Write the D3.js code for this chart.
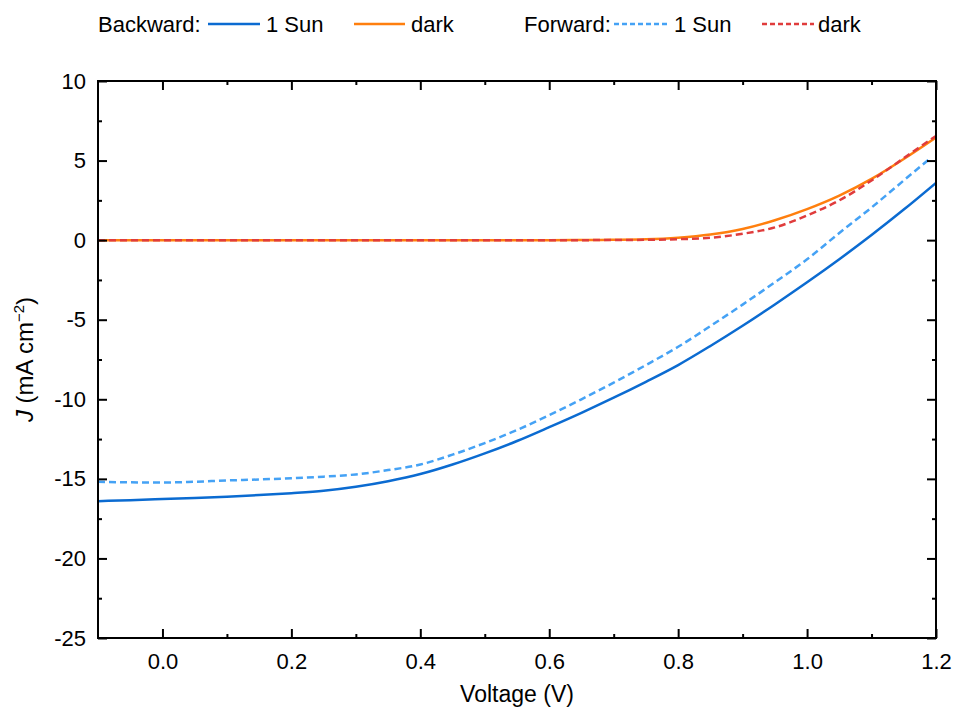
<!DOCTYPE html>
<html>
<head>
<meta charset="utf-8">
<script src="https://cdn.jsdelivr.net/npm/d3@7"></script>
<style>
  body { margin: 0; background: #fff; }
  svg { font-family: Arial, "Liberation Sans", sans-serif; }
</style>
</head>
<body>
<svg id="chart"></svg>
<script>
// voltage samples (V)
const voltage = [-0.1, -0.05, 0.0, 0.05, 0.1, 0.15, 0.2, 0.25, 0.3, 0.35, 0.4, 0.45, 0.5, 0.55,
  0.6, 0.65, 0.7, 0.75, 0.8, 0.85, 0.9, 0.95, 1.0, 1.05, 1.1, 1.15, 1.2];

// current density (mA cm-2)
const backwardSun = [-16.4, -16.34, -16.27, -16.2, -16.12, -16.02, -15.9, -15.75, -15.5, -15.15, -14.7, -14.1,
  -13.4, -12.62, -11.75, -10.85, -9.9, -8.9, -7.85, -6.65, -5.38, -4.04, -2.65, -1.2, 0.32, 1.92, 3.6];
const backwardDark = [0, 0, 0, 0, 0, 0, 0, 0, 0, 0, 0, 0, 0, 0, 0, 0.01, 0.02, 0.05, 0.15, 0.35, 0.7, 1.25,
  1.95, 2.8, 3.85, 5.1, 6.45];
const forwardSun = [-15.18, -15.22, -15.23, -15.18, -15.1, -15.04, -14.96, -14.86, -14.72, -14.45, -14.1, -13.48,
  -12.75, -11.93, -11.0, -10.0, -8.95, -7.85, -6.7, -5.4, -4.05, -2.65, -1.2, 0.45, 2.05, 3.75, 5.45];
const forwardDark = [0, 0, 0, 0, 0, 0, 0, 0, 0, 0, 0, 0, 0, 0, 0, 0, 0.01, 0.02, 0.06, 0.15, 0.4, 0.8,
  1.55, 2.5, 3.75, 5.15, 6.55];

const xTicks = [0.0, 0.2, 0.4, 0.6, 0.8, 1.0, 1.2];
const xMinor = [0.1, 0.3, 0.5, 0.7, 0.9, 1.1];
const yTicks = [-25, -20, -15, -10, -5, 0, 5, 10];
const yMinor = [-22.5, -17.5, -12.5, -7.5, -2.5, 2.5, 7.5];

const series = [
  { name: '1 Sun', group: 'Backward:', values: backwardSun, color: '#0b6bd1', dash: null, xEnd: 1.2 },
  { name: 'dark', group: 'Backward:', values: backwardDark, color: '#ff7f0e', dash: null, xEnd: 1.2 },
  { name: '1 Sun', group: 'Forward:', values: forwardSun, color: '#45a2f5', dash: '7,4', xEnd: 1.192 },
  { name: 'dark', group: 'Forward:', values: forwardDark, color: '#e03c3c', dash: '7,4', xEnd: 1.2 },
];

const width = 956, height = 713;
const margin = { top: 81, right: 20, bottom: 75, left: 98 };

const svg = d3.select('#chart').attr('width', width).attr('height', height);

const x = d3.scaleLinear().domain([-0.1, 1.2]).range([margin.left, width - margin.right]);
const y = d3.scaleLinear().domain([-25, 10]).range([height - margin.bottom, margin.top]);

// curves
const line = d3.line().x((d) => x(d[0])).y((d) => y(d[1])).curve(d3.curveMonotoneX);

svg.append('clipPath').attr('id', 'plot')
  .append('rect')
  .attr('x', margin.left).attr('y', margin.top)
  .attr('width', x(1.2) - margin.left).attr('height', y(-25) - margin.top);

for (const s of series) {
  const pts = voltage.map((v, i) => [v, s.values[i]]);
  if (s.xEnd < 1.2) {
    // forward scan stops a little before the edge
    const last = pts[pts.length - 1], prev = pts[pts.length - 2];
    const t = (s.xEnd - prev[0]) / (last[0] - prev[0]);
    pts[pts.length - 1] = [s.xEnd, prev[1] + (last[1] - prev[1]) * t];
  }
  svg.append('path')
    .datum(pts)
    .attr('clip-path', 'url(#plot)')
    .attr('fill', 'none')
    .attr('stroke', s.color)
    .attr('stroke-width', 2.5)
    .attr('stroke-dasharray', s.dash)
    .attr('d', line);
}

// axes, ticks pointing inward on all four sides
const fmtX = d3.format('.1f');
const fmtY = (d) => String(d); // plain hyphen like the original
const axisStyle = (g) => {
  g.select('.domain').remove();
  g.selectAll('.tick line').attr('stroke', '#000').attr('stroke-width', 2);
  g.selectAll('text').attr('font-size', 22).attr('fill', '#000');
};

svg.append('g')
  .attr('transform', `translate(0,${y(-25)})`)
  .call(d3.axisBottom(x).tickValues(xTicks).tickFormat(fmtX).tickSize(-9).tickPadding(15))
  .call(axisStyle);
svg.append('g')
  .attr('transform', `translate(0,${y(-25)})`)
  .call(d3.axisBottom(x).tickValues(xMinor).tickFormat('').tickSize(-4))
  .call(axisStyle);
svg.append('g')
  .attr('transform', `translate(0,${y(10)})`)
  .call(d3.axisTop(x).tickValues(xTicks).tickFormat('').tickSize(-9))
  .call(axisStyle);
svg.append('g')
  .attr('transform', `translate(0,${y(10)})`)
  .call(d3.axisTop(x).tickValues(xMinor).tickFormat('').tickSize(-4))
  .call(axisStyle);

svg.append('g')
  .attr('transform', `translate(${x(-0.1)},0)`)
  .call(d3.axisLeft(y).tickValues(yTicks).tickFormat(fmtY).tickSize(-9).tickPadding(12))
  .call(axisStyle);
svg.append('g')
  .attr('transform', `translate(${x(-0.1)},0)`)
  .call(d3.axisLeft(y).tickValues(yMinor).tickFormat('').tickSize(-4))
  .call(axisStyle);
svg.append('g')
  .attr('transform', `translate(${x(1.2)},0)`)
  .call(d3.axisRight(y).tickValues(yTicks).tickFormat('').tickSize(-9))
  .call(axisStyle);
svg.append('g')
  .attr('transform', `translate(${x(1.2)},0)`)
  .call(d3.axisRight(y).tickValues(yMinor).tickFormat('').tickSize(-4))
  .call(axisStyle);

// frame
svg.append('rect')
  .attr('x', x(-0.1)).attr('y', y(10))
  .attr('width', x(1.2) - x(-0.1)).attr('height', y(-25) - y(10))
  .attr('fill', 'none').attr('stroke', '#000').attr('stroke-width', 2);

// axis titles
svg.append('text')
  .attr('x', (x(-0.1) + x(1.2)) / 2).attr('y', 702)
  .attr('text-anchor', 'middle').attr('font-size', 23)
  .text('Voltage (V)');

const yTitle = svg.append('text')
  .attr('transform', `translate(33,${(y(10) + y(-25)) / 2}) rotate(-90)`)
  .attr('text-anchor', 'middle').attr('font-size', 24);
yTitle.append('tspan').attr('font-style', 'italic').text('J');
yTitle.append('tspan').text(' (mA cm');
yTitle.append('tspan').attr('font-size', 15).attr('dy', -9).text('\u22122');
yTitle.append('tspan').attr('dy', 9).text(')');

// legend on one row above the plot
const legendY = 24;
const legendLayout = [
  { label: 98, line: [208, 260], text: 266 },
  { label: null, line: [354, 405], text: 411 },
  { label: 524, line: [614, 669], text: 674 },
  { label: null, line: [762, 814], text: 818 },
];
series.forEach((s, i) => {
  const L = legendLayout[i];
  const g = svg.append('g').attr('font-size', 22);
  if (L.label !== null) {
    g.append('text').attr('x', L.label).attr('y', legendY).attr('dy', '0.35em').text(s.group);
  }
  g.append('line')
    .attr('x1', L.line[0]).attr('x2', L.line[1])
    .attr('y1', legendY).attr('y2', legendY)
    .attr('stroke', s.color).attr('stroke-width', 2.5)
    .attr('stroke-dasharray', s.dash ? '5,3' : null);
  g.append('text').attr('x', L.text).attr('y', legendY).attr('dy', '0.35em').text(s.name);
});
</script>
</body>
</html>
